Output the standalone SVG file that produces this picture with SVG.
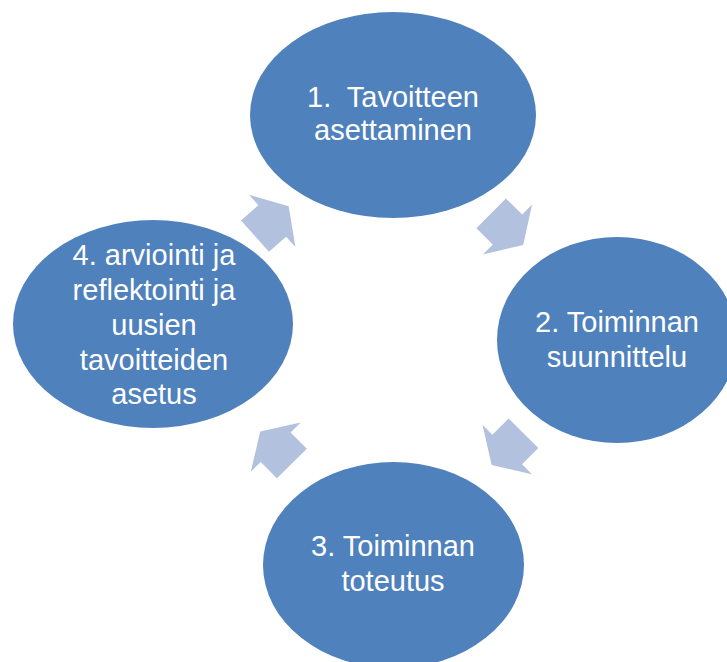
<svg xmlns="http://www.w3.org/2000/svg" xmlns:xlink="http://www.w3.org/1999/xlink" width="727" height="662" viewBox="0 0 727 662">
<style>
.node{fill:#4F81BD;}
.arrow{fill:#B1C1DE;}
.lbl{fill:#FFFFFF;font-family:"Liberation Sans",Arial,sans-serif;font-size:29px;text-anchor:middle;white-space:pre;}
</style>
<defs>
<polygon id="arr" points="-23,-21 0,-21 0,-35 22,0 0,35 0,21 -23,21"/>
</defs>
<rect width="727" height="662" fill="#FFFFFF"/>
<g id="connectors">
<use xlink:href="#arr" class="arrow" transform="translate(272.2,220.9) rotate(-41.5)"/>
<use xlink:href="#arr" class="arrow" transform="translate(507.5,229.5) rotate(44.6)"/>
<use xlink:href="#arr" class="arrow" transform="translate(507.2,449.5) rotate(135)"/>
<use xlink:href="#arr" class="arrow" transform="translate(275.7,447.2) rotate(-134.6)"/>
</g>
<g id="node1">
<ellipse class="node" cx="393" cy="115" rx="143" ry="103"/>
<text class="lbl" x="393" y="107">1.  Tavoitteen</text>
<text class="lbl" x="393" y="140">asettaminen</text>
</g>
<g id="node2">
<ellipse class="node" cx="617" cy="340" rx="120" ry="103"/>
<text class="lbl" x="617" y="332">2. Toiminnan</text>
<text class="lbl" x="617" y="367">suunnittelu</text>
</g>
<g id="node3">
<ellipse class="node" cx="393.5" cy="565" rx="130.5" ry="103"/>
<text class="lbl" x="393" y="556">3. Toiminnan</text>
<text class="lbl" x="393" y="591">toteutus</text>
</g>
<g id="node4">
<ellipse class="node" cx="153" cy="324" rx="140" ry="104"/>
<text class="lbl" x="154" y="265">4. arviointi ja</text>
<text class="lbl" x="154" y="300">reflektointi ja</text>
<text class="lbl" x="154" y="335">uusien</text>
<text class="lbl" x="154" y="370">tavoitteiden</text>
<text class="lbl" x="154" y="404">asetus</text>
</g>
</svg>
